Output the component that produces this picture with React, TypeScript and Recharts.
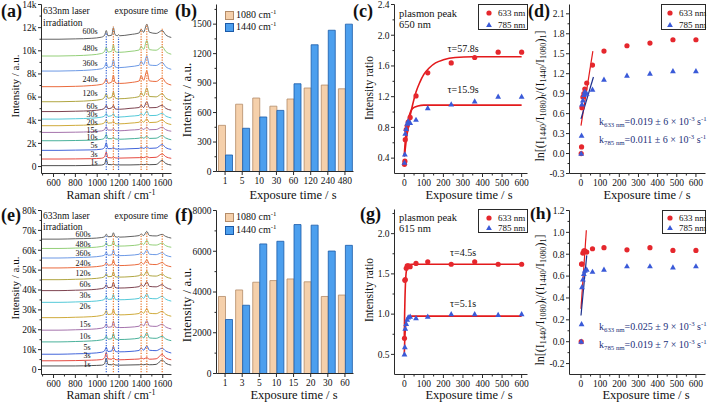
import React from 'react';
import {
  LineChart, ComposedChart, BarChart, Line, Bar, Scatter,
  XAxis, YAxis, ReferenceLine, ReferenceDot,
} from 'recharts';

const FONT = '"Liberation Serif","Times New Roman",Times,serif';
const AX = '#2a2a2a';
const TXT = '#111';
const RED = '#e5272d';
const BLUE = '#3a5ad8';
const FIT_RED = '#e31a1c';
const FIT_BLUE = '#1c2f8c';
const NAVY = '#22307a';
const PEACH = '#f5d0ab';
const PEACH_EDGE = '#b48c68';
const SKY = '#4c9fee';
const SKY_EDGE = '#1b5aa8';
const DOT_BLUE = '#3563d6';
const DOT_ORANGE = '#e9782e';

// ---------------- spectra data ----------------
const spectraTimes = ['1s', '3s', '5s', '10s', '15s', '20s', '30s', '60s', '120s', '240s', '360s', '480s', '600s'];
const traceColors = ['#3c3c3c', '#e2352b', '#2e55d6', '#36a88f', '#9b63a3', '#c9a226', '#41c3d4', '#6f2f3d', '#a79c2c', '#e85a28', '#5b8de2', '#88ca6a', '#505050'];
const ramanShift = [490, 650, 800, 950, 1040, 1068, 1083, 1098, 1133, 1148, 1163, 1186, 1195, 1206, 1300, 1385, 1402, 1425, 1454, 1478, 1540, 1595, 1625, 1680];
const peakShift = [1083, 1148, 1195, 1402, 1454, 1595];
const peakIsBlue = [true, false, true, false, false, false];

// panel (a): baselines, label heights, profiles (k counts above baseline)
const aOffsets = [80, 650, 1400, 2230, 2950, 3530, 4100, 4750, 5600, 6900, 8250, 9550, 11000];
const aLabelY = [380, 1080, 1800, 2480, 3150, 3830, 4520, 5220, 6300, 7550, 8950, 10250, 11650];
const aPeakTop = [11600, 12100, 11200, 11900, 12300, 11900];
const aProfiles = [
  [0, 0, 0, 0.02, 0.05, 0.15, 0.6, 0.1, 0.08, 0.12, 0.07, 0.06, 0.08, 0.06, 0.06, 0.08, 0.1, 0.08, 0.12, 0.08, 0.1, 0.45, 0.2, 0.05],
  [0, 0, 0.01, 0.03, 0.07, 0.2, 0.6, 0.12, 0.1, 0.18, 0.1, 0.08, 0.1, 0.08, 0.1, 0.12, 0.15, 0.12, 0.2, 0.12, 0.15, 0.45, 0.22, 0.06],
  [0, 0, 0.02, 0.04, 0.1, 0.25, 0.65, 0.15, 0.15, 0.25, 0.13, 0.1, 0.14, 0.1, 0.14, 0.17, 0.25, 0.17, 0.3, 0.17, 0.2, 0.5, 0.25, 0.08],
  [0, 0, 0.02, 0.05, 0.12, 0.25, 0.55, 0.18, 0.18, 0.3, 0.16, 0.13, 0.16, 0.13, 0.17, 0.22, 0.32, 0.22, 0.38, 0.2, 0.22, 0.45, 0.25, 0.08],
  [0, 0, 0.02, 0.06, 0.13, 0.25, 0.5, 0.2, 0.2, 0.35, 0.18, 0.14, 0.17, 0.14, 0.2, 0.25, 0.38, 0.25, 0.45, 0.23, 0.25, 0.45, 0.25, 0.1],
  [0, 0, 0.03, 0.07, 0.15, 0.27, 0.5, 0.22, 0.25, 0.4, 0.2, 0.16, 0.2, 0.16, 0.22, 0.3, 0.45, 0.3, 0.6, 0.27, 0.3, 0.5, 0.27, 0.1],
  [0, 0, 0.03, 0.08, 0.17, 0.28, 0.5, 0.24, 0.3, 0.48, 0.22, 0.18, 0.2, 0.18, 0.25, 0.32, 0.5, 0.32, 0.7, 0.3, 0.32, 0.5, 0.28, 0.1],
  [0, 0, 0.03, 0.08, 0.18, 0.3, 0.55, 0.25, 0.32, 0.55, 0.24, 0.2, 0.24, 0.2, 0.28, 0.35, 0.55, 0.35, 0.85, 0.33, 0.35, 0.55, 0.3, 0.12],
  [0, 0, 0.03, 0.1, 0.2, 0.4, 0.7, 0.3, 0.38, 0.85, 0.35, 0.26, 0.32, 0.26, 0.32, 0.45, 0.8, 0.5, 1.2, 0.45, 0.42, 0.7, 0.35, 0.12],
  [0, 0, 0.03, 0.1, 0.2, 0.4, 0.7, 0.3, 0.4, 1.0, 0.38, 0.28, 0.36, 0.28, 0.35, 0.5, 0.95, 0.55, 1.35, 0.5, 0.45, 0.75, 0.38, 0.14],
  [0, 0, 0.03, 0.1, 0.2, 0.4, 0.7, 0.32, 0.4, 1.0, 0.38, 0.3, 0.38, 0.3, 0.38, 0.5, 0.85, 0.55, 1.3, 0.52, 0.48, 0.75, 0.4, 0.15],
  [0, 0, 0.03, 0.1, 0.22, 0.42, 0.75, 0.34, 0.42, 1.0, 0.4, 0.32, 0.4, 0.32, 0.4, 0.52, 0.85, 0.58, 1.35, 0.55, 0.5, 0.8, 0.42, 0.15],
  [0, 0, 0.03, 0.08, 0.18, 0.35, 0.75, 0.3, 0.35, 1.0, 0.4, 0.3, 0.4, 0.3, 0.4, 0.55, 0.85, 0.6, 1.3, 0.6, 0.5, 0.75, 0.4, 0.15],
];

// panel (e)
const eOffsets = [1800, 4400, 7700, 13900, 19800, 26100, 33800, 39700, 45200, 51100, 56100, 60900, 65600];
const eLabelY = [2500, 7000, 11000, 16800, 22800, 31800, 37100, 42700, 48200, 53500, 58300, 63200, 67800];
const ePeakTop = [67000, 68000, 66000, 68000, 68500, 68000];
const eProfiles = [
  [0, 0, 0, 0.2, 0.4, 1.2, 4.0, 0.8, 0.6, 1.0, 0.5, 0.4, 0.5, 0.4, 0.5, 0.6, 0.8, 0.6, 0.9, 0.6, 0.8, 3.0, 1.5, 0.4],
  [0, 0, 0.1, 0.3, 0.6, 1.5, 4.2, 1.0, 0.8, 1.5, 0.7, 0.5, 0.6, 0.5, 0.7, 0.9, 1.5, 0.9, 1.6, 0.8, 1.0, 3.2, 1.6, 0.5],
  [0, 0, 0.2, 0.5, 1.0, 1.8, 3.5, 1.4, 1.6, 4.0, 1.6, 1.2, 1.6, 1.2, 1.4, 1.9, 3.2, 2.0, 4.2, 2.0, 1.8, 3.0, 1.7, 0.6],
  [0, 0, 0.2, 0.5, 1.0, 1.6, 3.0, 1.4, 1.6, 4.2, 1.6, 1.2, 1.5, 1.2, 1.4, 1.9, 3.0, 2.0, 4.5, 2.0, 1.8, 2.8, 1.6, 0.6],
  [0, 0, 0.2, 0.5, 1.0, 1.7, 3.2, 1.5, 1.7, 4.5, 1.7, 1.3, 1.6, 1.3, 1.5, 2.0, 3.2, 2.1, 4.8, 2.1, 1.9, 3.0, 1.7, 0.6],
  [0, 0, 0.2, 0.5, 1.1, 1.9, 3.6, 1.6, 1.8, 4.3, 1.8, 1.4, 1.7, 1.4, 1.6, 2.1, 3.2, 2.2, 4.6, 2.2, 2.0, 3.2, 1.8, 0.7],
  [0, 0, 0.2, 0.5, 1.0, 1.6, 3.0, 1.5, 1.6, 4.0, 1.6, 1.3, 1.6, 1.3, 1.5, 2.0, 3.0, 2.0, 4.3, 2.0, 1.8, 3.0, 1.7, 0.6],
  [0, 0, 0.2, 0.5, 1.0, 1.6, 3.0, 1.5, 1.7, 4.2, 1.7, 1.3, 1.6, 1.3, 1.5, 2.0, 3.1, 2.1, 4.5, 2.1, 1.9, 3.0, 1.7, 0.6],
  [0, 0, 0.2, 0.5, 1.0, 1.6, 3.0, 1.5, 1.6, 4.0, 1.6, 1.3, 1.6, 1.3, 1.5, 2.0, 3.0, 2.0, 4.3, 2.0, 1.8, 2.8, 1.6, 0.6],
  [0, 0, 0.2, 0.5, 1.0, 1.5, 2.8, 1.4, 1.6, 4.0, 1.6, 1.2, 1.5, 1.2, 1.4, 1.9, 2.8, 1.9, 4.2, 1.9, 1.7, 2.7, 1.5, 0.6],
  [0, 0, 0.2, 0.5, 1.0, 1.5, 3.0, 1.4, 1.6, 4.0, 1.6, 1.2, 1.5, 1.2, 1.4, 1.9, 2.8, 1.9, 4.2, 1.9, 1.7, 2.7, 1.5, 0.6],
  [0, 0, 0.2, 0.5, 1.0, 1.5, 3.0, 1.4, 1.6, 4.0, 1.6, 1.2, 1.5, 1.2, 1.4, 1.9, 2.8, 1.9, 4.2, 1.9, 1.7, 2.7, 1.5, 0.6],
  [0, 0, 0.2, 0.4, 0.8, 1.2, 2.5, 1.2, 1.3, 3.2, 1.3, 1.0, 1.3, 1.0, 1.3, 1.8, 2.6, 1.8, 3.9, 1.8, 1.6, 2.4, 1.4, 0.5],
];

// ---------------- bar data ----------------
const bCats = ['1', '5', '10', '30', '60', '120', '240', '480'];
const b1080 = [470, 685, 748, 665, 738, 850, 880, 842];
const b1440 = [168, 440, 555, 622, 893, 1290, 1438, 1500];
const fCats = ['1', '3', '5', '10', '15', '20', '30', '60'];
const f1080 = [3780, 4100, 4480, 4560, 4640, 4500, 3780, 3850];
const f1440 = [2650, 3350, 6360, 6490, 7310, 7280, 6010, 6290];

// ---------------- ratio data ----------------
const expTimes = [1, 3, 5, 10, 15, 20, 30, 60, 120, 240, 360, 480, 600];
const c633 = [0.32, 0.36, 0.64, 0.77, 0.82, 0.87, 0.93, 1.21, 1.51, 1.64, 1.71, 1.78, 1.78];
const c785 = [0.34, 0.45, 0.72, 0.78, 0.85, 0.88, 0.86, 0.90, 1.05, 1.10, 1.14, 1.20, 1.20];
const cFit633T = [0, 5, 10, 20, 30, 45, 60, 80, 100, 130, 160, 200, 260, 350, 450, 600];
const cFit633Y = [0.42, 0.52, 0.63, 0.80, 0.95, 1.12, 1.26, 1.39, 1.49, 1.58, 1.64, 1.68, 1.71, 1.72, 1.72, 1.72];
const cFit785T = [0, 5, 10, 15, 20, 30, 40, 50, 70, 100, 200, 600];
const cFit785Y = [0.44, 0.62, 0.75, 0.84, 0.90, 0.99, 1.04, 1.06, 1.08, 1.09, 1.09, 1.09];

const d633 = [0.0, 0.10, 0.69, 0.85, 0.90, 0.97, 1.06, 1.33, 1.54, 1.62, 1.66, 1.71, 1.71];
const d785 = [0.0, 0.27, 0.74, 0.80, 0.88, 0.93, 0.90, 0.96, 1.11, 1.17, 1.20, 1.24, 1.24];
const dFit633T = [0, 62];
const dFit633Y = [0.42, 1.54];
const dFit785T = [0, 65];
const dFit785Y = [0.52, 1.15];

const g633 = [0.70, 1.42, 1.43, 1.57, 1.60, 1.60, 1.59, 1.63, 1.65, 1.62, 1.65, 1.62, 1.62];
const g785 = [0.50, 0.59, 0.82, 0.88, 0.93, 0.96, 0.97, 0.95, 0.97, 1.00, 1.00, 0.99, 1.00];
const gFit633T = [0, 1, 2, 4, 6, 8, 12, 16, 25, 40, 600];
const gFit633Y = [0.70, 0.88, 1.03, 1.24, 1.38, 1.47, 1.56, 1.60, 1.615, 1.62, 1.62];
const gFit785T = [0, 2, 4, 6, 8, 12, 16, 25, 40, 600];
const gFit785Y = [0.50, 0.65, 0.76, 0.83, 0.88, 0.93, 0.955, 0.972, 0.975, 0.975];

const h633 = [0.0, 0.71, 0.71, 0.81, 0.83, 0.83, 0.82, 0.85, 0.86, 0.84, 0.86, 0.835, 0.835];
const h785 = [0.0, 0.16, 0.50, 0.57, 0.62, 0.65, 0.66, 0.64, 0.66, 0.69, 0.69, 0.68, 0.69];
const hFit633T = [0, 28];
const hFit633Y = [0.30, 1.02];
const hFit785T = [0, 30];
const hFit785Y = [0.24, 0.79];

// ---------------- ticks ----------------
const ramanMajor = [600, 800, 1000, 1200, 1400, 1600];
const ramanTicks = [500, 600, 700, 800, 900, 1000, 1100, 1200, 1300, 1400, 1500, 1600];
const aYMajor = [0, 2000, 4000, 6000, 8000, 10000, 12000, 14000];
const aYTicks = [0, 1000, 2000, 3000, 4000, 5000, 6000, 7000, 8000, 9000, 10000, 11000, 12000, 13000, 14000];
const eYMajor = [0, 10000, 20000, 30000, 40000, 50000, 60000, 70000, 80000];
const eYTicks = [0, 5000, 10000, 15000, 20000, 25000, 30000, 35000, 40000, 45000, 50000, 55000, 60000, 65000, 70000, 75000, 80000];
const bYMajor = [0, 300, 600, 900, 1200, 1500];
const bYTicks = [0, 150, 300, 450, 600, 750, 900, 1050, 1200, 1350, 1500, 1650];
const fYMajor = [0, 2000, 4000, 6000, 8000];
const fYTicks = [0, 1000, 2000, 3000, 4000, 5000, 6000, 7000, 8000];
const tMajor = [0, 100, 200, 300, 400, 500, 600];
const tTicks = [0, 50, 100, 150, 200, 250, 300, 350, 400, 450, 500, 550, 600];
const cYMajor = [0.4, 0.8, 1.2, 1.6, 2.0, 2.4];
const cYTicks = [0.4, 0.6, 0.8, 1.0, 1.2, 1.4, 1.6, 1.8, 2.0, 2.2, 2.4];
const dYMajor = [-0.3, 0, 0.3, 0.6, 0.9, 1.2, 1.5, 1.8, 2.1];
const dYTicks = [-0.3, -0.15, 0, 0.15, 0.3, 0.45, 0.6, 0.75, 0.9, 1.05, 1.2, 1.35, 1.5, 1.65, 1.8, 1.95, 2.1];
const gYMajor = [0.5, 1.0, 1.5, 2.0];
const gYTicks = [0.5, 0.75, 1.0, 1.25, 1.5, 1.75, 2.0, 2.25];
const hYMajor = [-0.2, 0, 0.2, 0.4, 0.6, 0.8, 1.0, 1.2];
const hYTicks = [-0.2, -0.1, 0, 0.1, 0.2, 0.3, 0.4, 0.5, 0.6, 0.7, 0.8, 0.9, 1.0, 1.1, 1.2];

// ---------------- helpers ----------------
const isMajor = (majors: number[] | null, v: any) =>
  majors === null || majors.some((m) => Math.abs(m - v) < 1e-9);
const kFmt = (v: number) => (v === 0 ? '0' : `${v / 1000}k`);
const f1 = (v: number) => v.toFixed(1);
const TICK_FS = 9.5;

const mkXTick = (majors: number[] | null, fmt: (v: any) => string) => (p: any) => {
  const v = p.payload.value;
  const mj = isMajor(majors, v);
  return (
    <g>
      <line x1={p.x} x2={p.x} y1={p.y} y2={p.y + (mj ? 3.5 : 2)} stroke={AX} strokeWidth={1} />
      {mj && (
        <text x={p.x} y={p.y + 12} textAnchor="middle" fontSize={TICK_FS} fontFamily={FONT} fill={TXT}>
          {fmt(v)}
        </text>
      )}
    </g>
  );
};
const mkYTick = (majors: number[] | null, fmt: (v: any) => string) => (p: any) => {
  const v = p.payload.value;
  const mj = isMajor(majors, v);
  return (
    <g>
      <line x1={p.x} x2={p.x - (mj ? 3.5 : 2)} y1={p.y} y2={p.y} stroke={AX} strokeWidth={1} />
      {mj && (
        <text x={p.x - 5} y={p.y + 3.3} textAnchor="end" fontSize={TICK_FS} fontFamily={FONT} fill={TXT}>
          {fmt(v)}
        </text>
      )}
    </g>
  );
};

type Frame = { x0: number; x1: number; y0: number; y1: number };
function geom(left: number, top: number, width: number, height: number, f: Frame) {
  const x0 = f.x0 + 0.5, x1 = f.x1 + 0.5, y0 = f.y0 + 0.5, y1 = f.y1 + 0.5;
  return {
    margin: { top: y0 - top, right: left + width - x1, bottom: 0, left: 0 },
    yW: x0 - left,
    xH: top + height - y1,
  };
}

const dotLabel = (text: string, fs = 8) => (p: any) => {
  const vb = p.viewBox || {};
  return (
    <text x={vb.x} y={vb.y + fs * 0.33} textAnchor="end" fontSize={fs} fontFamily={FONT} fill={TXT}>
      {text}
    </text>
  );
};

const RedDot = (p: any) => <circle cx={p.cx} cy={p.cy} r={2.6} fill={RED} />;
const BlueTri = (p: any) => (
  <polygon points={`${p.cx},${p.cy - 3.1} ${p.cx - 2.9},${p.cy + 2.1} ${p.cx + 2.9},${p.cy + 2.1}`} fill={BLUE} />
);

const pts = (ys: number[]) => expTimes.map((x, i) => ({ x, y: ys[i] }));
const fitPts = (ts: number[], ys: number[]) => ts.map((x, i) => ({ x, y: ys[i] }));

// ---------------- panels ----------------
function SpectraPanel(props: any) {
  const { left, top, width, height, frame, offsets, profiles, labelY, labelX, yDomain, yTicks, yMajor, peakTop, peakBottom } = props;
  const rows = ramanShift.map((x, i) => {
    const r: any = { x };
    profiles.forEach((p: number[], j: number) => {
      r['s' + j] = offsets[j] + p[i] * 1000;
    });
    return r;
  });
  const g = geom(left, top, width, height, frame);
  const xDomain = [490, 1680];
  return (
    <div style={{ position: 'absolute', left, top }}>
      <LineChart width={width} height={height} data={rows} margin={g.margin}>
        <XAxis dataKey="x" type="number" domain={xDomain} ticks={ramanTicks} interval={0} allowDataOverflow height={g.xH}
          tickSize={0} tickMargin={0} tickLine={false} axisLine={{ stroke: AX }} tick={mkXTick(ramanMajor, String)} />
        <YAxis type="number" domain={yDomain} ticks={yTicks} interval={0} allowDataOverflow width={g.yW}
          tickSize={0} tickMargin={0} tickLine={false} axisLine={{ stroke: AX }} tick={mkYTick(yMajor, kFmt)} />
        <XAxis xAxisId="top" orientation="top" type="number" domain={xDomain} height={0} tick={false} tickLine={false} axisLine={{ stroke: AX }} allowDataOverflow />
        <YAxis yAxisId="right" orientation="right" type="number" domain={yDomain} width={0} tick={false} tickLine={false} axisLine={{ stroke: AX }} allowDataOverflow />
        {profiles.map((_: any, j: number) => (
          <Line key={'s' + j} dataKey={'s' + j} type="monotone" stroke={traceColors[j]} strokeWidth={0.9} dot={false} isAnimationActive={false} />
        ))}
        {peakShift.map((s, k) => (
          <ReferenceLine key={'p' + k} segment={[{ x: s, y: peakBottom }, { x: s, y: peakTop[k] }]}
            stroke={peakIsBlue[k] ? DOT_BLUE : DOT_ORANGE} strokeDasharray="1.3 1.3" strokeWidth={1.2} />
        ))}
        {spectraTimes.map((t, j) => (
          <ReferenceDot key={'l' + j} x={labelX} y={labelY[j]} r={0} fill="none" stroke="none" ifOverflow="visible" label={dotLabel(t)} />
        ))}
      </LineChart>
    </div>
  );
}

function BarPanel(props: any) {
  const { left, top, width, height, frame, cats, v1080, v1440, yDomain, yTicks, yMajor } = props;
  const rows = cats.map((c: string, i: number) => ({ cat: c, a: v1080[i], b: v1440[i] }));
  const g = geom(left, top, width, height, frame);
  return (
    <div style={{ position: 'absolute', left, top }}>
      <BarChart width={width} height={height} data={rows} margin={g.margin} barSize={7} barGap={0}>
        <XAxis dataKey="cat" type="category" interval={0} height={g.xH} tickSize={0} tickMargin={0} tickLine={false}
          axisLine={{ stroke: AX }} tick={mkXTick(null, String)} />
        <YAxis type="number" domain={yDomain} ticks={yTicks} interval={0} allowDataOverflow width={g.yW}
          tickSize={0} tickMargin={0} tickLine={false} axisLine={{ stroke: AX }} tick={mkYTick(yMajor, String)} />
        <XAxis xAxisId="top" orientation="top" dataKey="cat" type="category" height={0} tick={false} tickLine={false} axisLine={{ stroke: AX }} />
        <YAxis yAxisId="right" orientation="right" type="number" domain={yDomain} width={0} tick={false} tickLine={false} axisLine={{ stroke: AX }} allowDataOverflow />
        <Bar dataKey="a" fill={PEACH} stroke={PEACH_EDGE} strokeWidth={0.8} isAnimationActive={false} />
        <Bar dataKey="b" fill={SKY} stroke={SKY_EDGE} strokeWidth={0.8} isAnimationActive={false} />
      </BarChart>
    </div>
  );
}

function RatioPanel(props: any) {
  const { left, top, width, height, frame, xDomain, yDomain, yTicks, yMajor, red, blue, fits } = props;
  const g = geom(left, top, width, height, frame);
  return (
    <div style={{ position: 'absolute', left, top }}>
      <ComposedChart width={width} height={height} margin={g.margin}>
        <XAxis dataKey="x" type="number" domain={xDomain} ticks={tTicks} interval={0} allowDataOverflow height={g.xH}
          tickSize={0} tickMargin={0} tickLine={false} axisLine={{ stroke: AX }} tick={mkXTick(tMajor, String)} />
        <YAxis type="number" domain={yDomain} ticks={yTicks} interval={0} allowDataOverflow width={g.yW}
          tickSize={0} tickMargin={0} tickLine={false} axisLine={{ stroke: AX }} tick={mkYTick(yMajor, f1)} />
        <XAxis xAxisId="top" orientation="top" type="number" domain={xDomain} height={0} tick={false} tickLine={false} axisLine={{ stroke: AX }} allowDataOverflow />
        <YAxis yAxisId="right" orientation="right" type="number" domain={yDomain} width={0} tick={false} tickLine={false} axisLine={{ stroke: AX }} allowDataOverflow />
        <Scatter data={pts(red)} dataKey="y" shape={RedDot} isAnimationActive={false} />
        <Scatter data={pts(blue)} dataKey="y" shape={BlueTri} isAnimationActive={false} />
        {fits.map((f: any, i: number) => (
          <Line key={'f' + i} data={fitPts(f.t, f.y)} dataKey="y" type={f.type} stroke={f.color} strokeWidth={f.w}
            dot={false} isAnimationActive={false} />
        ))}
      </ComposedChart>
    </div>
  );
}

// ---------------- html text ----------------
function T({ x, y, size = 10, anchor = 'start', bold = false, color = TXT, rot = false, children }: any) {
  const tx = anchor === 'start' ? '0%' : anchor === 'middle' ? '-50%' : '-100%';
  return (
    <div
      style={{
        position: 'absolute', left: x, top: y,
        transform: rot ? 'translate(-50%,-50%) rotate(-90deg)' : `translate(${tx},-50%)`,
        fontSize: size, fontFamily: FONT, fontWeight: bold ? 700 : 400, color,
        whiteSpace: 'nowrap', lineHeight: 1,
      }}
    >
      {children}
    </div>
  );
}
const Sub = ({ children }: any) => <span style={{ fontSize: '0.68em', verticalAlign: '-0.3em', lineHeight: 0 }}>{children}</span>;
const Sup = ({ children }: any) => <span style={{ fontSize: '0.68em', verticalAlign: '0.55em', lineHeight: 0 }}>{children}</span>;

function Mk({ x, y, kind }: any) {
  return (
    <svg style={{ position: 'absolute', left: x - 4, top: y - 4 }} width={8} height={8}>
      {kind === 'c' ? <circle cx={4} cy={4} r={2.6} fill={RED} /> : <polygon points="4,0.9 1.1,6.1 6.9,6.1" fill={BLUE} />}
    </svg>
  );
}
function LegendBox({ left, top, right, bottom, mx, tx, y1, y2 }: any) {
  return (
    <>
      <div style={{ position: 'absolute', left, top, width: right - left, height: bottom - top, border: `1px solid ${AX}`, boxSizing: 'border-box' }} />
      <Mk x={mx} y={y1} kind="c" />
      <Mk x={mx} y={y2} kind="t" />
      <T x={tx} y={y1} size={9}>633 nm</T>
      <T x={tx} y={y2} size={9}>785 nm</T>
    </>
  );
}
function BarLegend({ left, y1, y2 }: any) {
  const sq = (y: number, fill: string, edge: string) => (
    <div style={{ position: 'absolute', left, top: y - 4.5, width: 9, height: 9, background: fill, border: `1px solid ${edge}`, boxSizing: 'border-box' }} />
  );
  return (
    <>
      {sq(y1, PEACH, PEACH_EDGE)}
      {sq(y2, SKY, SKY_EDGE)}
      <T x={left + 11} y={y1} size={10}>1080 cm<Sup>-1</Sup></T>
      <T x={left + 11} y={y2} size={10}>1440 cm<Sup>-1</Sup></T>
    </>
  );
}
const LnTitle = () => (
  <>
    ln[(I<Sub>1440</Sub>/I<Sub>1080</Sub>)<Sub>t</Sub>/(I<Sub>1440</Sub>/I<Sub>1080</Sub>)<Sub>1</Sub>]
  </>
);

export default function App() {
  return (
    <div style={{ position: 'absolute', left: 0, top: 0, width: 709, height: 403, background: '#fff', overflow: 'hidden', fontFamily: FONT }}>
      {/* (a) */}
      <SpectraPanel left={0} top={0} width={176} height={200} frame={{ x0: 41, x1: 171, y0: 4, y1: 173 }}
        offsets={aOffsets} profiles={aProfiles} labelY={aLabelY} labelX={1003} yDomain={[-600, 14000]}
        yTicks={aYTicks} yMajor={aYMajor} peakTop={aPeakTop} peakBottom={-300} />
      {/* (b) */}
      <BarPanel left={176} top={0} width={178} height={200} frame={{ x0: 216, x1: 353, y0: 4, y1: 171 }}
        cats={bCats} v1080={b1080} v1440={b1440} yDomain={[0, 1700]} yTicks={bYTicks} yMajor={bYMajor} />
      {/* (c) */}
      <RatioPanel left={354} top={0} width={176} height={200} frame={{ x0: 394, x1: 527, y0: 4, y1: 173 }}
        xDomain={[-50, 630]} yDomain={[0.2, 2.4]} yTicks={cYTicks} yMajor={cYMajor} red={c633} blue={c785}
        fits={[
          { t: cFit633T, y: cFit633Y, color: FIT_RED, w: 1.6, type: 'monotone' },
          { t: cFit785T, y: cFit785Y, color: FIT_RED, w: 1.6, type: 'monotone' },
        ]} />
      {/* (d) */}
      <RatioPanel left={530} top={0} width={179} height={200} frame={{ x0: 569, x1: 705, y0: 4, y1: 173 }}
        xDomain={[-60, 650]} yDomain={[-0.3, 2.24]} yTicks={dYTicks} yMajor={dYMajor} red={d633} blue={d785}
        fits={[
          { t: dFit633T, y: dFit633Y, color: FIT_RED, w: 1.2, type: 'linear' },
          { t: dFit785T, y: dFit785Y, color: FIT_BLUE, w: 1.2, type: 'linear' },
        ]} />
      {/* (e) */}
      <SpectraPanel left={0} top={200} width={176} height={203} frame={{ x0: 41, x1: 171, y0: 210, y1: 374 }}
        offsets={eOffsets} profiles={eProfiles} labelY={eLabelY} labelX={940} yDomain={[-2500, 80000]}
        yTicks={eYTicks} yMajor={eYMajor} peakTop={ePeakTop} peakBottom={-1400} />
      {/* (f) */}
      <BarPanel left={176} top={200} width={178} height={203} frame={{ x0: 216, x1: 353, y0: 210, y1: 373 }}
        cats={fCats} v1080={f1080} v1440={f1440} yDomain={[0, 8000]} yTicks={fYTicks} yMajor={fYMajor} />
      {/* (g) */}
      <RatioPanel left={354} top={200} width={176} height={203} frame={{ x0: 394, x1: 527, y0: 209, y1: 374 }}
        xDomain={[-50, 630]} yDomain={[0.25, 2.3]} yTicks={gYTicks} yMajor={gYMajor} red={g633} blue={g785}
        fits={[
          { t: gFit633T, y: gFit633Y, color: FIT_RED, w: 1.6, type: 'monotone' },
          { t: gFit785T, y: gFit785Y, color: FIT_RED, w: 1.6, type: 'monotone' },
        ]} />
      {/* (h) */}
      <RatioPanel left={530} top={200} width={179} height={203} frame={{ x0: 569, x1: 705, y0: 210, y1: 374 }}
        xDomain={[-60, 650]} yDomain={[-0.3, 1.2]} yTicks={hYTicks} yMajor={hYMajor} red={h633} blue={h785}
        fits={[
          { t: hFit633T, y: hFit633Y, color: FIT_RED, w: 1.2, type: 'linear' },
          { t: hFit785T, y: hFit785Y, color: FIT_BLUE, w: 1.2, type: 'linear' },
        ]} />

      {/* panel letters */}
      <T x={1} y={11} size={18} bold>(a)</T>
      <T x={175} y={11} size={18} bold>(b)</T>
      <T x={353} y={11} size={18} bold>(c)</T>
      <T x={528} y={11} size={18} bold>(d)</T>
      <T x={1} y={215} size={18} bold>(e)</T>
      <T x={175} y={215} size={18} bold>(f)</T>
      <T x={360} y={214} size={18} bold>(g)</T>
      <T x={530} y={214} size={17.5} bold>(h)</T>

      {/* axis titles */}
      <T x={15} y={86} size={11} rot>Intensity / a.u.</T>
      <T x={186} y={100} size={13} rot>Intensity / a.u.</T>
      <T x={370} y={88} size={11.5} rot>Intensity ratio</T>
      <T x={540} y={96} size={12} rot><LnTitle /></T>
      <T x={15} y={288} size={11} rot>Intensity / a.u.</T>
      <T x={186} y={305} size={13} rot>Intensity / a.u.</T>
      <T x={370} y={290} size={11.5} rot>Intensity ratio</T>
      <T x={540} y={300} size={12} rot><LnTitle /></T>

      <T x={111} y={195} size={12} anchor="middle">Raman shift / cm<Sup>-1</Sup></T>
      <T x={293} y={194.5} size={12.5} anchor="middle">Exposure time / s</T>
      <T x={469} y={194.5} size={12.5} anchor="middle">Exposure time / s</T>
      <T x={647} y={194.5} size={12.5} anchor="middle">Exposure time / s</T>
      <T x={111} y={395} size={12} anchor="middle">Raman shift / cm<Sup>-1</Sup></T>
      <T x={294} y={394.5} size={12.5} anchor="middle">Exposure time / s</T>
      <T x={469} y={394.5} size={12.5} anchor="middle">Exposure time / s</T>
      <T x={646} y={394.5} size={12.5} anchor="middle">Exposure time / s</T>

      {/* annotations (a), (e) */}
      <T x={43} y={12} size={9.5}>633nm laser</T>
      <T x={43} y={24} size={9.5}>irradiation</T>
      <T x={168} y={12} size={9.5} anchor="end">exposure time</T>
      <T x={43} y={217} size={9.5}>633nm laser</T>
      <T x={43} y={228} size={9.5}>irradiation</T>
      <T x={168} y={217} size={9.5} anchor="end">exposure time</T>

      {/* bar legends */}
      <BarLegend left={225} y1={15} y2={27} />
      <BarLegend left={225} y1={217} y2={230} />

      {/* (c) and (g) annotations */}
      <T x={399} y={14} size={10.5}>plasmon peak</T>
      <T x={399} y={25} size={10.5}>650 nm</T>
      <T x={463} y={49} size={10} anchor="middle">τ=57.8s</T>
      <T x={463} y={90} size={10} anchor="middle">τ=15.9s</T>
      <LegendBox left={478} top={4} right={528} bottom={30} mx={489} tx={498} y1={13} y2={25} />

      <T x={399} y={218} size={10.5}>plasmon peak</T>
      <T x={399} y={229} size={10.5}>615 nm</T>
      <T x={463} y={253} size={10} anchor="middle">τ=4.5s</T>
      <T x={463} y={304} size={10} anchor="middle">τ=5.1s</T>
      <LegendBox left={478} top={209} right={528} bottom={233} mx={489} tx={498} y1={218} y2={228} />

      {/* (d) and (h) annotations */}
      <LegendBox left={661} top={4} right={706} bottom={30} mx={670} tx={679} y1={13} y2={25} />
      <T x={599} y={122} size={10} color={NAVY}>k<Sub>633 nm</Sub>=0.019 ± 6 × 10<Sup>-3</Sup> s<Sup>-1</Sup></T>
      <T x={599} y={140} size={10} color={NAVY}>k<Sub>785 nm</Sub>=0.011 ± 6 × 10<Sup>-3</Sup> s<Sup>-1</Sup></T>

      <LegendBox left={662} top={210} right={706} bottom={234} mx={670} tx={679} y1={218} y2={228} />
      <T x={599} y={327} size={10} color={NAVY}>k<Sub>633 nm</Sub>=0.025 ± 9 × 10<Sup>-3</Sup> s<Sup>-1</Sup></T>
      <T x={599} y={345} size={10} color={NAVY}>k<Sub>785 nm</Sub>=0.019 ± 7 × 10<Sup>-3</Sup> s<Sup>-1</Sup></T>
    </div>
  );
}
